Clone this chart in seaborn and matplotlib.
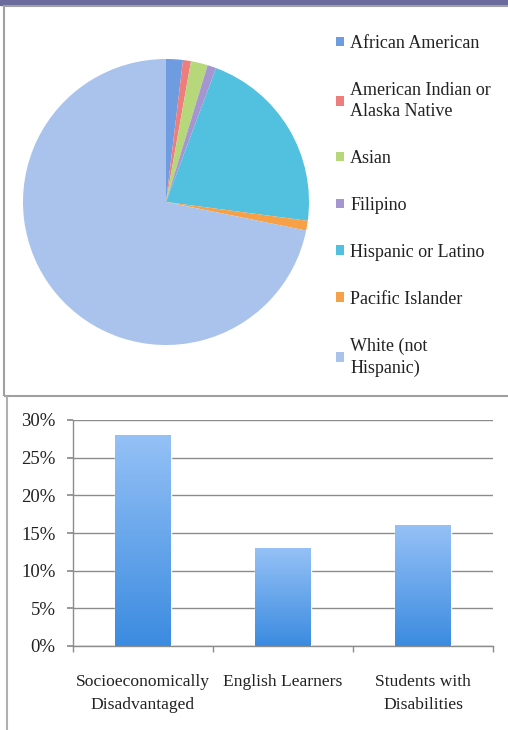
import numpy as np
import pandas as pd
import matplotlib
matplotlib.use("Agg")
import matplotlib.pyplot as plt
import seaborn as sns
from matplotlib.patches import Rectangle
from matplotlib.lines import Line2D
from matplotlib.colors import LinearSegmentedColormap
from matplotlib.ticker import PercentFormatter

# donnees du camembert (part des eleves, en %)
groups = ["African American", "American Indian or\nAlaska Native", "Asian", "Filipino",
          "Hispanic or Latino", "Pacific Islander", "White (not\nHispanic)"]
shares = [1.9, 0.9, 1.9, 1.0, 21.4, 1.1, 71.8]
group_colors = ["#6f9ce0", "#ee7d7d", "#b6d87a", "#a596d2", "#52c0df", "#f6a047", "#a9c3ec"]

# donnees des barres
subgroups = ["Socioeconomically\nDisadvantaged", "English Learners", "Students with\nDisabilities"]
pct = [0.28, 0.13, 0.16]

sns.set_theme(style="white")
plt.rcParams["font.family"] = ["Liberation Serif", "DejaVu Serif"]

W, H = 508, 730
fig = plt.figure(figsize=(W / 100, H / 100), dpi=100)

def fx(px):
    return px / W

def fy(py):
    return 1 - py / H

# bandeau et cadres
fig.patches.append(Rectangle((0, fy(5)), 1, fy(0) - fy(5), transform=fig.transFigure,
                             color="#6a6a9c", zorder=0))
fig.patches.append(Rectangle((fx(4), fy(396)), 1.0, fy(6) - fy(396), transform=fig.transFigure,
                             fill=False, edgecolor="#a0a0a0", linewidth=1.5, zorder=0))
fig.lines.append(Line2D([fx(6.5), fx(6.5)], [0, fy(397)], transform=fig.transFigure,
                        color="#b0b0b0", linewidth=1.5))

# --- camembert ---
cx, cy, r = 166, 202, 143
ax1 = fig.add_axes([fx(cx - r), fy(cy + r), fx(2 * r), (2 * r) / H])
wedges, _ = ax1.pie(shares, colors=group_colors, startangle=90, counterclock=False,
                    wedgeprops=dict(linewidth=0))
ax1.set_xlim(-1, 1)
ax1.set_ylim(-1, 1)
ax1.set_aspect("equal")
ax1.axis("off")

leg = fig.legend(wedges, groups, loc="upper left", bbox_to_anchor=(fx(336), fy(35)),
                 frameon=False, fontsize=13, handlelength=0.44, handleheight=0.44,
                 handletextpad=0.35, labelspacing=1.65, borderpad=0, borderaxespad=0)
for t in leg.get_texts():
    t.set_linespacing(1.35)
    t.set_color("#222222")

# --- barres ---
ax2 = fig.add_axes([fx(73), fy(646), fx(493 - 73), (646 - 420) / H])
df = pd.DataFrame({"group": subgroups, "pct": pct})
sns.barplot(data=df, x="group", y="pct", ax=ax2, color="#5fa0ea", width=0.4,
            saturation=1, zorder=3)

grad = LinearSegmentedColormap.from_list("barblue", ["#3b8be0", "#95c1f6"])
ramp = np.linspace(0, 1, 256).reshape(-1, 1)
for p in ax2.patches:
    x0, y0 = p.get_x(), p.get_y()
    im = ax2.imshow(ramp, cmap=grad, origin="lower", aspect="auto", zorder=4,
                    extent=[x0, x0 + p.get_width(), y0, y0 + p.get_height()])
    im.set_clip_path(p)

ax2.set_xlim(-0.5, 2.5)
ax2.set_ylim(0, 0.30)
ax2.set_yticks(np.arange(0, 0.301, 0.05))
ax2.yaxis.set_major_formatter(PercentFormatter(1.0, decimals=0))
ax2.set_xticks([0, 1, 2])
ax2.set_xticks([-0.5, 0.5, 1.5, 2.5], minor=True)
ax2.grid(axis="y", color="#8c8c8c", linewidth=1, zorder=0)
ax2.set_axisbelow(True)
for s in ["top", "right"]:
    ax2.spines[s].set_visible(False)
for s in ["left", "bottom"]:
    ax2.spines[s].set_color("#8c8c8c")
    ax2.spines[s].set_linewidth(1)
ax2.tick_params(axis="y", which="major", left=True, length=4, color="#8c8c8c",
                labelsize=13.5, pad=8.5, labelcolor="#222222")
ax2.tick_params(axis="x", which="major", bottom=False, labelsize=12.6, pad=14,
                labelcolor="#222222")
ax2.tick_params(axis="x", which="minor", bottom=True, length=4, color="#8c8c8c")
for t in ax2.get_xticklabels():
    t.set_linespacing(1.6)
ax2.set_xlabel("")
ax2.set_ylabel("")

fig.savefig("out.png", dpi=100)
